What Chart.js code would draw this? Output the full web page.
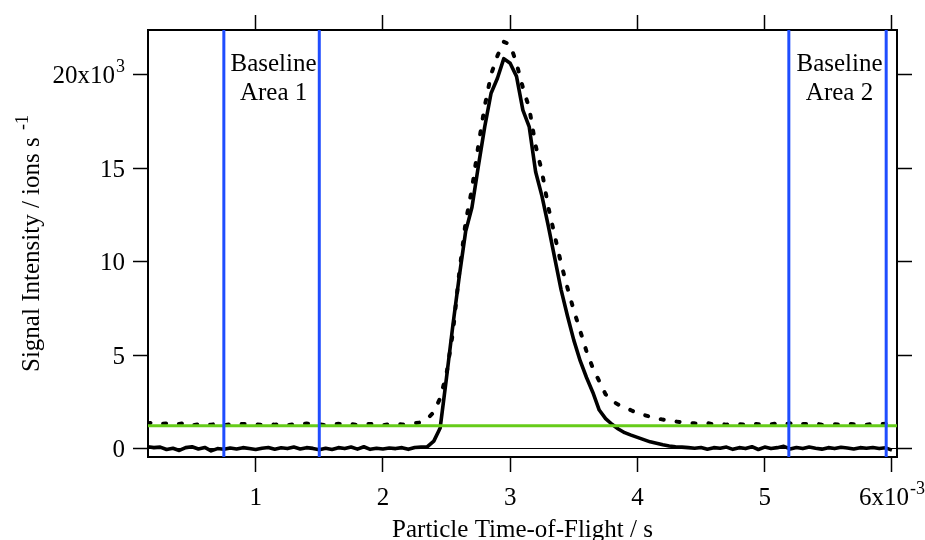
<!DOCTYPE html>
<html>
<head>
<meta charset="utf-8">
<script src="https://cdn.jsdelivr.net/npm/chart.js@4/dist/chart.umd.min.js"></script>
<style>
html,body{margin:0;padding:0;background:#ffffff;}
#c{display:block;}
</style>
</head>
<body>
<canvas id="c" width="925" height="540"></canvas>
<script>
// Particle time-of-flight (units of 1e-3 s)
const timeOfFlight = [
  0.15,0.20,0.25,0.30,0.35,0.40,0.45,0.50,0.55,0.60,
  0.65,0.70,0.75,0.80,0.85,0.90,0.95,1.00,1.05,1.10,
  1.15,1.20,1.25,1.30,1.35,1.40,1.45,1.50,1.55,1.60,
  1.65,1.70,1.75,1.80,1.85,1.90,1.95,2.00,2.05,2.10,
  2.15,2.20,2.25,2.30,2.35,2.40,2.45,2.50,2.55,2.60,
  2.65,2.70,2.75,2.80,2.85,2.90,2.95,3.00,3.05,3.10,
  3.15,3.20,3.25,3.30,3.35,3.40,3.45,3.50,3.55,3.60,
  3.65,3.70,3.75,3.80,3.85,3.90,3.95,4.00,4.05,4.10,
  4.15,4.20,4.25,4.30,4.35,4.40,4.45,4.50,4.55,4.60,
  4.65,4.70,4.75,4.80,4.85,4.90,4.95,5.00,5.05,5.10,
  5.15,5.20,5.25,5.30,5.35,5.40,5.45,5.50,5.55,5.60,
  5.65,5.70,5.75,5.80,5.85,5.90,5.95,6.00
];
// Baseline-subtracted signal (units of 1e3 ions/s), solid line
const signalSolid = [
  0.10,0.05,0.08,-0.05,0.02,-0.10,0.05,0.10,-0.02,0.06,
  -0.12,0.00,-0.04,0.03,-0.02,0.05,0.00,-0.05,0.02,0.06,
  -0.03,0.04,0.00,0.08,-0.02,0.05,0.01,-0.06,0.02,-0.05,
  0.05,0.00,0.08,-0.03,0.10,-0.04,0.02,-0.02,0.03,0.00,
  0.05,-0.04,0.06,0.08,0.10,0.40,1.10,3.80,6.60,9.20,
  11.60,12.90,15.10,17.20,19.00,19.80,20.85,20.60,19.90,18.10,
  17.20,14.80,13.50,11.90,10.20,8.50,7.10,5.80,4.70,3.80,
  3.00,2.06,1.60,1.30,1.05,0.85,0.72,0.60,0.48,0.36,
  0.28,0.20,0.14,0.10,0.08,0.05,0.02,0.06,-0.03,0.05,
  0.02,0.08,-0.04,0.05,0.00,0.10,-0.05,0.08,0.00,0.05,
  0.12,-0.02,0.06,0.00,0.08,0.02,-0.03,0.05,0.00,0.07,
  0.03,-0.02,0.05,0.02,0.06,0.00,0.04,-0.08
];
// Raw signal (units of 1e3 ions/s), dashed line
const signalDashed = [
  1.35,1.40,1.30,1.35,1.28,1.32,1.38,1.25,1.30,1.22,
  1.28,1.33,1.25,1.30,1.27,1.32,1.28,1.30,1.26,1.31,
  1.28,1.33,1.25,1.30,1.28,1.34,1.27,1.30,1.25,1.29,
  1.33,1.27,1.31,1.26,1.30,1.32,1.28,1.25,1.30,1.34,
  1.29,1.31,1.36,1.40,1.60,1.95,2.70,4.00,6.20,9.40,
  12.10,13.90,16.20,18.30,20.00,21.00,21.75,21.60,20.60,19.30,
  18.20,16.20,14.80,12.90,11.40,9.90,8.60,7.40,6.30,5.20,
  4.30,3.60,2.90,2.55,2.35,2.22,2.05,1.90,1.80,1.70,
  1.62,1.55,1.50,1.45,1.40,1.38,1.35,1.33,1.36,1.30,
  1.32,1.28,1.34,1.30,1.27,1.35,1.30,1.33,1.29,1.36,
  1.30,1.35,1.25,1.32,1.30,1.34,1.28,1.31,1.30,1.27,
  1.33,1.30,1.32,1.28,1.31,1.29,1.33,1.30
];
const baselineLevel = 1.22;
const baselineArea1 = [0.75, 1.50];
const baselineArea2 = [5.19, 5.955];
const areaLabels = [["Baseline", "Area 1"], ["Baseline", "Area 2"]];
const xRange = [0.154, 6.04];
const yRange = [-0.45, 22.38];
const xTickLabels = ["1", "2", "3", "4", "5", "6x10"];
const xTickExps = ["", "", "", "", "", "-3"];
const yTickLabels = ["0", "5", "10", "15", "20x10"];
const yTickExps = ["", "", "", "", "3"];
const xTitle = "Particle Time-of-Flight / s";
const yTitle = "Signal Intensity / ions s ";
const yTitleExp = "-1";

const FONT = '"Liberation Serif", "Times New Roman", Times, serif';
const BLUE = "#1f4dff";
const GREEN = "#66cc1a";

function drawSup(ctx, main, exp, x, y, align, size) {
  const supSize = Math.round(size * 0.72);
  ctx.font = size + "px " + FONT;
  const w1 = ctx.measureText(main).width;
  ctx.font = supSize + "px " + FONT;
  const w2 = exp ? ctx.measureText(exp).width + 1 : 0;
  const total = w1 + w2;
  const sx = align === "center" ? x - total / 2 : (align === "right" ? x - total : x);
  ctx.textAlign = "left";
  ctx.textBaseline = "alphabetic";
  ctx.font = size + "px " + FONT;
  ctx.fillText(main, sx, y);
  if (exp) {
    ctx.font = supSize + "px " + FONT;
    ctx.fillText(exp, sx + w1 + 1, y - 11);
  }
}

const textPlugin = {
  id: "textPlugin",
  afterDraw(chart) {
    const ctx = chart.ctx;
    const xs = chart.scales.x, ys = chart.scales.y;
    const area = chart.chartArea;
    ctx.save();
    ctx.fillStyle = "#000";
    xs.ticks.forEach((t, i) => {
      if (i >= xTickLabels.length) return;
      drawSup(ctx, xTickLabels[i], xTickExps[i], xs.getPixelForValue(t.value), 505, "center", 25);
    });
    ys.ticks.forEach((t, i) => {
      if (i >= yTickLabels.length) return;
      drawSup(ctx, yTickLabels[i], yTickExps[i], 125, ys.getPixelForValue(t.value) + 8.5, "right", 25);
    });
    drawSup(ctx, xTitle, "", (area.left + area.right) / 2, 537, "center", 25);
    ctx.save();
    ctx.translate(39, (area.top + area.bottom) / 2);
    ctx.rotate(-Math.PI / 2);
    drawSup(ctx, yTitle, yTitleExp, 0, 0, "center", 25);
    ctx.restore();
    [baselineArea1, baselineArea2].forEach((a, i) => {
      const cx = (xs.getPixelForValue(a[0]) + xs.getPixelForValue(a[1])) / 2 + 2;
      ctx.font = "25px " + FONT;
      ctx.textAlign = "center";
      ctx.textBaseline = "alphabetic";
      ctx.fillText(areaLabels[i][0], cx, ys.getPixelForValue(20.2));
      ctx.fillText(areaLabels[i][1], cx, ys.getPixelForValue(18.64));
    });
    ctx.restore();
  }
};

const toPoints = (ys) => timeOfFlight.map((t, i) => ({ x: t, y: ys[i] }));
const edges = baselineArea1.concat(baselineArea2);

const datasets = edges.map((e) => ({
  data: [{ x: e, y: yRange[0] }, { x: e, y: yRange[1] }],
  borderColor: BLUE,
  borderWidth: 3,
  pointRadius: 0
}));
datasets.push({
  data: [{ x: xRange[0], y: baselineLevel }, { x: xRange[1], y: baselineLevel }],
  borderColor: GREEN,
  borderWidth: 3,
  pointRadius: 0
});
datasets.push({
  data: toPoints(signalSolid),
  borderColor: "#000",
  borderWidth: 3.6,
  pointRadius: 0,
  borderJoinStyle: "round"
});
datasets.push({
  data: toPoints(signalDashed),
  borderColor: "#000",
  borderWidth: 4,
  pointRadius: 0,
  borderDash: [3, 13],
  borderCapStyle: "round"
});

const tickGrid = { drawOnChartArea: false, drawTicks: true, tickLength: 15, tickColor: "#000", tickWidth: 1.5 };
const axisBorder = { display: true, color: "#000", width: 2 };

new Chart(document.getElementById("c"), {
  type: "line",
  data: { datasets },
  options: {
    responsive: false,
    animation: false,
    devicePixelRatio: 1,
    events: [],
    layout: { padding: 0 },
    elements: { line: { tension: 0, fill: false } },
    plugins: { legend: { display: false }, tooltip: { enabled: false } },
    scales: {
      x: {
        type: "linear", position: "bottom", min: xRange[0], max: xRange[1],
        ticks: { display: false, stepSize: 1, includeBounds: false },
        grid: tickGrid, border: axisBorder,
        afterFit: (s) => { s.height = 83; }
      },
      x2: {
        type: "linear", axis: "x", position: "top", min: xRange[0], max: xRange[1],
        ticks: { display: false, stepSize: 1, includeBounds: false },
        grid: tickGrid, border: axisBorder,
        afterFit: (s) => { s.height = 30; }
      },
      y: {
        type: "linear", position: "left", min: yRange[0], max: yRange[1],
        ticks: { display: false, stepSize: 5, includeBounds: false },
        grid: {
          drawOnChartArea: true, drawTicks: true, tickLength: 15, tickColor: "#000", tickWidth: 1.5,
          lineWidth: 1,
          color: (c) => (c.tick && c.tick.value === 0 ? "#000" : "rgba(0,0,0,0)")
        },
        border: axisBorder,
        afterFit: (s) => { s.width = 148; }
      },
      y2: {
        type: "linear", axis: "y", position: "right", min: yRange[0], max: yRange[1],
        ticks: { display: false, stepSize: 5, includeBounds: false },
        grid: tickGrid, border: axisBorder,
        afterFit: (s) => { s.width = 28; }
      }
    }
  },
  plugins: [textPlugin]
});
</script>
</body>
</html>
